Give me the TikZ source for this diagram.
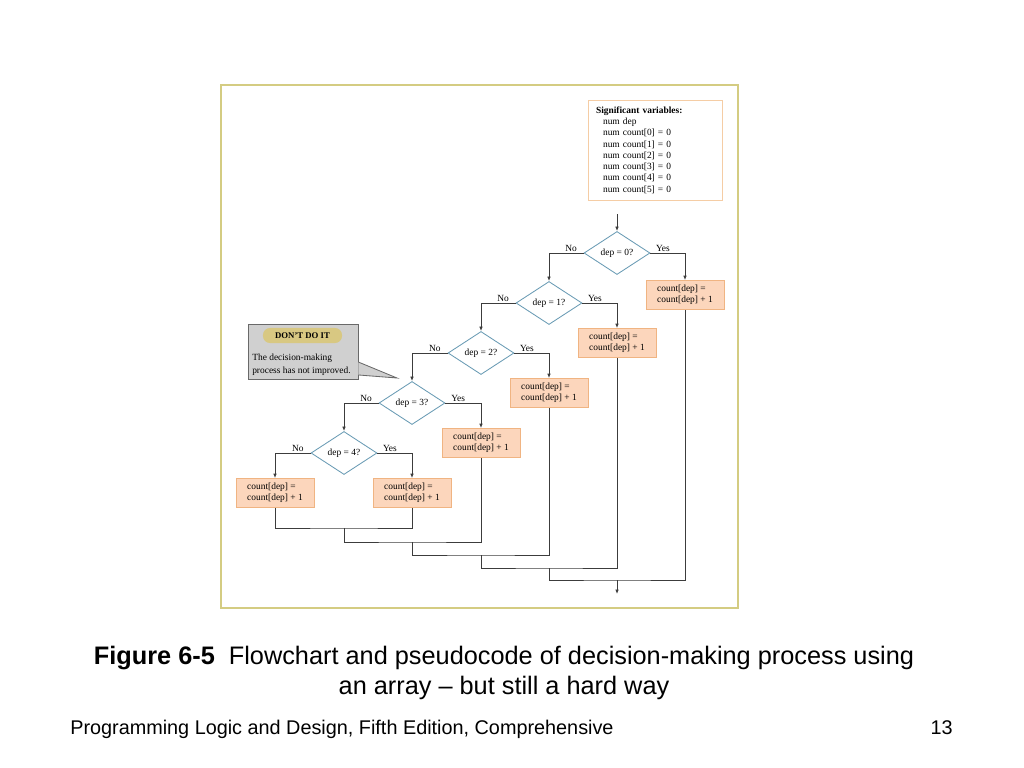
\documentclass[tikz,border=0pt]{standalone}
\usepackage{fontspec}
\setmainfont{Liberation Serif}
\newfontfamily\capfont{Liberation Sans}
\usetikzlibrary{positioning}
\usetikzlibrary{shapes.geometric}
\usetikzlibrary{arrows.meta}

\definecolor{framecol}{RGB}{212,204,130}
\definecolor{diacol}{RGB}{105,155,180}
\definecolor{actdraw}{RGB}{240,180,130}
\definecolor{actfill}{RGB}{252,214,188}
\definecolor{varcol}{RGB}{245,205,165}
\definecolor{linecol}{RGB}{60,60,60}
\definecolor{notefill}{RGB}{208,208,208}
\definecolor{notedraw}{RGB}{105,105,105}
\definecolor{warnfill}{RGB}{216,200,130}

\newcommand{\chartfont}{\fontsize{6.7pt}{7.8pt}\selectfont}
\newcommand{\varfont}{\fontsize{6.7pt}{8pt}\selectfont}
\newcommand{\notefont}{\fontsize{6.7pt}{9.2pt}\selectfont}

\begin{document}
\begin{tikzpicture}[x = 0.025cm, y = -0.025cm,
    >={Latex[length = 3.2pt, width = 2.6pt]},
    decision/.style = {shape = diamond, draw = diacol, line width = 0.6pt, fill = white, aspect = 1.53, inner sep = 0pt, minimum width = 46.9pt, minimum height = 30.6pt, font = \chartfont},
    action/.style = {shape = rectangle, draw = actdraw, fill = actfill, line width = 0.6pt, minimum width = 55.5pt, minimum height = 20.6pt, inner sep = 0pt, align = left, font = \chartfont},
    varbox/.style = {shape = rectangle, draw = varcol, line width = 0.6pt, text width = 83.9pt, inner xsep = 5.7pt, minimum height = 71.1pt, align = left, font = \varfont},
    flow/.style = {draw = linecol, line width = 0.6pt},
    answer/.style = {above, inner sep = 1pt, pos = 0.18, font = \chartfont},
    note/.style = {shape = rectangle, draw = notedraw, fill = notefill, line width = 0.6pt, minimum width = 78.2pt, minimum height = 39.1pt},
    warn/.style = {shape = rectangle, rounded corners = 5pt, fill = warnfill, minimum width = 56.2pt, minimum height = 10.7pt, inner sep = 0pt, font = \fontsize{6.2pt}{7pt}\selectfont\bfseries},
    ]
    \useasboundingbox (0,0) rectangle (1024,768);
    \draw[framecol, line width = 0.8pt] (221,85) rectangle (738,608);

    % variables
    \node[varbox] (vars) at (655,150) {\textbf{Significant variables:}\\
        \hspace*{5pt}num dep\\
        \hspace*{5pt}num count[0] = 0\\
        \hspace*{5pt}num count[1] = 0\\
        \hspace*{5pt}num count[2] = 0\\
        \hspace*{5pt}num count[3] = 0\\
        \hspace*{5pt}num count[4] = 0\\
        \hspace*{5pt}num count[5] = 0};

    % decisions
    \node[decision] (D0) at (617,253) {dep = 0?};
    \node[decision] (D1) at (549,303) {dep = 1?};
    \node[decision] (D2) at (481,353) {dep = 2?};
    \node[decision] (D3) at (412,403) {dep = 3?};
    \node[decision] (D4) at (344,453) {dep = 4?};

    % actions
    \node[action] (B0) at (685,295) {count[dep] =\\count[dep] + 1};
    \node[action] (B1) at (617,343) {count[dep] =\\count[dep] + 1};
    \node[action] (B2) at (549,393) {count[dep] =\\count[dep] + 1};
    \node[action] (B3) at (481,443) {count[dep] =\\count[dep] + 1};
    \node[action] (B4) at (412,493) {count[dep] =\\count[dep] + 1};
    \node[action] (B5) at (275,493) {count[dep] =\\count[dep] + 1};

    \coordinate (start) at (617,214);
    \coordinate (j4) at (344,528);
    \coordinate (j3) at (412,542);
    \coordinate (j2) at (481,555);
    \coordinate (j1) at (549,568);
    \coordinate (j0) at (617,580);
    \coordinate (stop) at (617,594);

    \draw[flow, ->] (start) -- (D0);
    \draw[flow, ->] (D0.west) -| node[answer] {No} (D1.north);
    \draw[flow, ->] (D0.east) -| node[answer] {Yes} (B0.north);
    \draw[flow, ->] (D1.west) -| node[answer] {No} (D2.north);
    \draw[flow, ->] (D1.east) -| node[answer] {Yes} (B1.north);
    \draw[flow, ->] (D2.west) -| node[answer] {No} (D3.north);
    \draw[flow, ->] (D2.east) -| node[answer] {Yes} (B2.north);
    \draw[flow, ->] (D3.west) -| node[answer] {No} (D4.north);
    \draw[flow, ->] (D3.east) -| node[answer] {Yes} (B3.north);
    \draw[flow, ->] (D4.west) -| node[answer] {No} (B5.north);
    \draw[flow, ->] (D4.east) -| node[answer] {Yes} (B4.north);

    % joining the branches
    \draw[flow] (B5) |- (j4) -| (B4);
    \draw[flow] (j4) |- (j3) -| (B3);
    \draw[flow] (j3) |- (j2) -| (B2);
    \draw[flow] (j2) |- (j1) -| (B1);
    \draw[flow] (j1) |- (j0) -| (B0);
    \draw[flow, ->] (j0) -- (stop);

    % callout
    \node[note] (note) at (303,351.5) {};
    \coordinate (tip) at (397,378);
    \fill[notefill] ([yshift = -7.5pt]note.east) -- (tip) -- ([yshift = -16.7pt]note.east) -- cycle;
    \draw[notedraw, line width = 0.6pt] ([yshift = -7.5pt]note.east) -- (tip) -- ([yshift = -16.7pt]note.east);
    \node[warn] (warn) at (302.5,335.5) {DON'T DO IT};
    \node[anchor = base west, align = left, inner sep = 0pt, font = \notefont] (notetxt) at (252,373) {The decision-making\\process has not improved.};

    % caption and footer
    \node[anchor = base, inner sep = 0pt, font = \capfont\fontsize{18pt}{21pt}\selectfont] (cap1) at (504,664) {\textbf{Figure 6-5}\ \ Flowchart and pseudocode of decision-making process using};
    \node[anchor = base, inner sep = 0pt, font = \capfont\fontsize{18pt}{21pt}\selectfont] (cap2) at (504,694) {an array – but still a hard way};
    \node[anchor = base west, inner sep = 0pt, font = \capfont\fontsize{14.1pt}{17pt}\selectfont] (book) at (70,734) {Programming Logic and Design, Fifth Edition, Comprehensive};
    \node[anchor = base east, inner sep = 0pt, font = \capfont\fontsize{14.1pt}{17pt}\selectfont] (page) at (953,734) {13};
\end{tikzpicture}
\end{document}
